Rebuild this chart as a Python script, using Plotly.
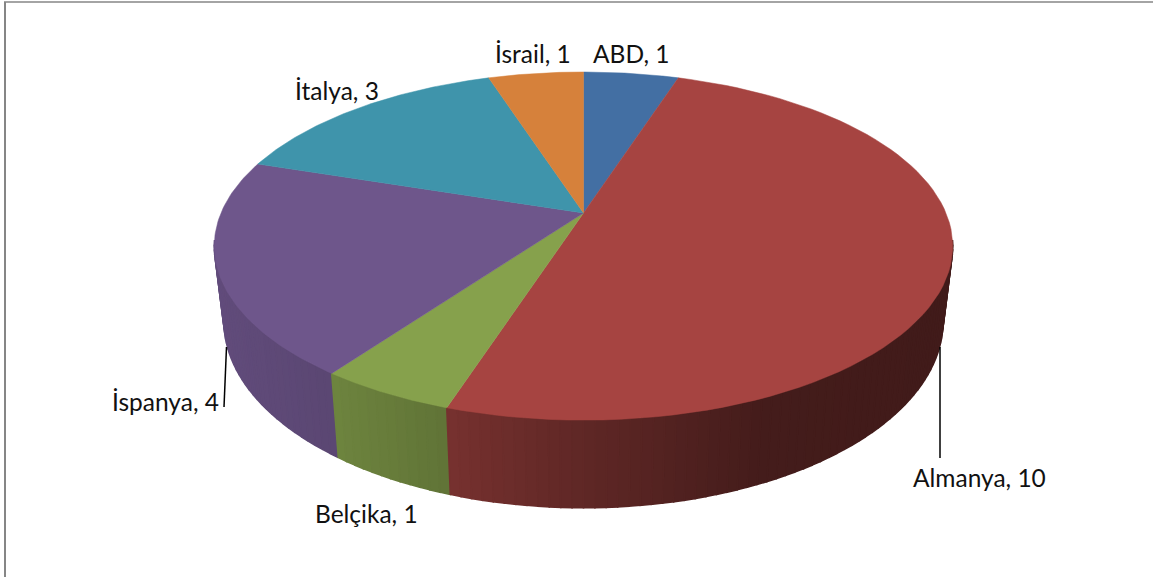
import numpy as np
import plotly.graph_objects as go

# Data
categories = ["ABD", "Almanya", "Belçika", "İspanya", "İtalya", "İsrail"]
values = [1, 10, 1, 4, 3, 1]
colors = ["#4572A7", "#AA4643", "#89A54E", "#71588F", "#4198AF", "#DB843D"]

# Label centres on the canvas
label_x = [631, 979, 366, 165, 337, 533]
label_y = [53, 477, 513, 401, 90, 53]

# Perspective model of the 3D pie (top and bottom discs)
CX = 583.5
K = 0.19
TOP_A, TOP_B, TOP_Y = 362.5, 167.8, 213
BOT_A, BOT_B, BOT_Y = 353, 180, 285.5
TOP_F = 0.975
# wall shading by horizontal position
SHADE_X = [225, 340, 450, 583, 760, 950]
SHADE_F = [0.86, 0.80, 0.70, 0.56, 0.40, 0.38]


def project(theta_deg, a, b, y0):
    t = np.radians(theta_deg)
    w = 1 + K * np.cos(t)
    return CX + a * np.sin(t) / w, y0 - b * np.cos(t) / w


def shade(hex_color, f):
    rgb = [int(hex_color[i:i + 2], 16) for i in (1, 3, 5)]
    return "rgb({},{},{})".format(*[round(c * f) for c in rgb])


def poly(xs, ys, color, width):
    return go.Scatter(x=xs, y=ys, mode="lines", fill="toself", fillcolor=color,
                      line=dict(color=color, width=width), hoverinfo="skip",
                      showlegend=False)


edges = np.concatenate([[0], np.cumsum(values)]) * 360.0 / sum(values)
fig = go.Figure()

# Walls, outer ends first so nearer strips overlay them
strips = []
for i, c in enumerate(colors):
    a0, a1 = edges[i], edges[i + 1]
    lo, hi = max(a0, 99.0), min(a1, 261.0)
    if hi <= lo:
        continue
    n = max(1, int(np.ceil((hi - lo) / 1.5)))
    th = np.linspace(lo, hi, n + 1)
    for s, e in zip(th[:-1], th[1:]):
        strips.append((s, e, c))
strips.sort(key=lambda r: abs((r[0] + r[1]) / 2 - 180), reverse=True)
for s, e, c in strips:
    tx0, ty0 = project(s, TOP_A, TOP_B, TOP_Y)
    tx1, ty1 = project(e, TOP_A, TOP_B, TOP_Y)
    bx0, by0 = project(s, BOT_A, BOT_B, BOT_Y)
    bx1, by1 = project(e, BOT_A, BOT_B, BOT_Y)
    f = float(np.interp((bx0 + bx1) / 2, SHADE_X, SHADE_F))
    fig.add_trace(poly([tx0, tx1, bx1, bx0, tx0], [ty0, ty1, by1, by0, ty0], shade(c, f), 1.6))

# Top face
for i, c in enumerate(colors):
    th = np.linspace(edges[i], edges[i + 1], 80)
    x, y = project(th, TOP_A, TOP_B, TOP_Y)
    fig.add_trace(poly(np.r_[CX, x, CX], np.r_[TOP_Y, y, TOP_Y], shade(c, TOP_F), 0.5))

# Leader lines
fig.add_trace(go.Scatter(x=[940, 940], y=[347, 458], mode="lines",
                         line=dict(color="black", width=1.5), hoverinfo="skip", showlegend=False))
fig.add_trace(go.Scatter(x=[226.5, 224], y=[347, 407], mode="lines",
                         line=dict(color="black", width=1.5), hoverinfo="skip", showlegend=False))

# Labels
for name, v, lx, ly in zip(categories, values, label_x, label_y):
    fig.add_annotation(x=lx, y=ly, text=f"{name}, {v}", showarrow=False,
                       xanchor="center", yanchor="middle",
                       font=dict(family="Lato", size=24.5, color="#111111"))

# Chart frame (top and left edges)
fig.add_shape(type="line", xref="x", yref="y", x0=4, x1=1153, y0=2, y1=2,
              line=dict(color="#868686", width=1.5))
fig.add_shape(type="line", xref="x", yref="y", x0=5, x1=5, y0=2, y1=577,
              line=dict(color="#868686", width=2))

fig.update_layout(
    width=1153, height=577, margin=dict(l=0, r=0, t=0, b=0),
    paper_bgcolor="white", plot_bgcolor="white", showlegend=False,
    xaxis=dict(range=[0, 1153], visible=False, fixedrange=True),
    yaxis=dict(range=[577, 0], visible=False, fixedrange=True),
)
fig.write_html("out.html", config=dict(displayModeBar=False),
               post_script="document.body.style.margin='0';document.body.style.overflow='hidden';")
